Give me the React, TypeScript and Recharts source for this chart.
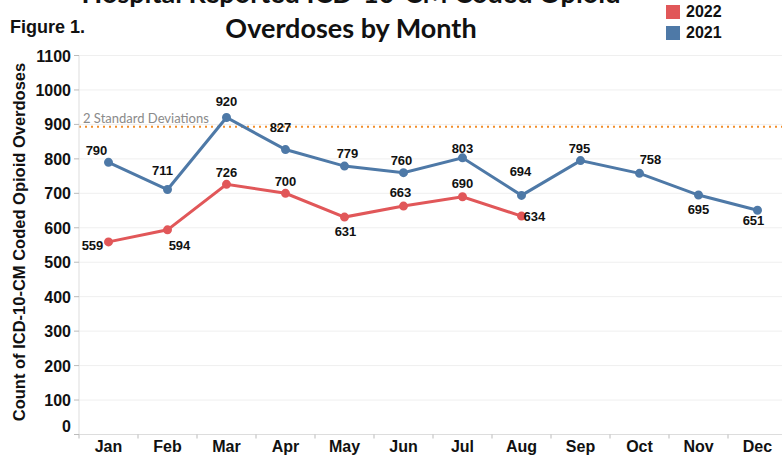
import { LineChart, Line, XAxis, YAxis, CartesianGrid, ReferenceLine } from 'recharts';

const months = ['Jan', 'Feb', 'Mar', 'Apr', 'May', 'Jun', 'Jul', 'Aug', 'Sep', 'Oct', 'Nov', 'Dec'];
const counts2021 = [790, 711, 920, 827, 779, 760, 803, 694, 795, 758, 695, 651];
const counts2022 = [559, 594, 726, 700, 631, 663, 690, 634];
const yTicks = [0, 100, 200, 300, 400, 500, 600, 700, 800, 900, 1000, 1100];
const twoStdDev = 893;

// label offsets (dx, dy from the point), picked to match the original placement
const offsets2021 = [
    [-12, -12], [-5, -20], [0, -17], [-5, -23], [3, -13], [-2, -13],
    [0, -10], [-1, -24], [-1, -13], [11, -14], [0, 14], [-4, 10],
];
const offsets2022 = [
    [-16, 3], [12, 15], [0, -12], [0, -12], [1, 14], [-3, -14], [0, -14], [null, 0],
];

const data = months.map((m, i) => ({
    month: m,
    y2021: counts2021[i],
    y2022: counts2022[i],
}));

const RED = '#e15759';
const BLUE = '#4e79a7';
const FONT = '"Liberation Sans", Arial, sans-serif';

const makeLabel = (offsets: (number | null)[][]) => (props: any) => {
    const { x, y, value, index } = props;
    if (value == null) return null;
    const [dx, dy] = offsets[index] || [0, -12];
    if (dx === null) {
        return (
            <text x={x + 2} y={y + dy} dy={5} textAnchor="start" fontFamily={FONT} fontWeight="bold" fontSize={13} fill="#111">
                {value}
            </text>
        );
    }
    return (
        <text x={x + dx} y={y + dy} dy={5} textAnchor="middle" fontFamily={FONT} fontWeight="bold" fontSize={13} fill="#111">
            {value}
        </text>
    );
};

const MonthTick = (props: any) => {
    const { x, y, payload } = props;
    return (
        <g>
            <line x1={x - 29.5} x2={x - 29.5} y1={y} y2={y + 4} stroke="#bbb" />
            <text x={x} y={y + 17} textAnchor="middle" fontFamily={FONT} fontWeight="bold" fontSize={16} fill="#111">
                {payload.value}
            </text>
        </g>
    );
};

const CountTick = (props: any) => {
    const { x, y, payload } = props;
    const shift = payload.value === 0 ? -9 : 0;
    return (
        <text x={x} y={y + shift} dy={6} textAnchor="end" fontFamily={FONT} fontWeight="bold" fontSize={16} fill="#111">
            {payload.value}
        </text>
    );
};

const App = () => {
    return (
        <div style={{ position: 'absolute', left: 0, top: 0, width: 782, height: 457, overflow: 'hidden', background: '#fff' }}>
            <div
                style={{
                    position: 'absolute', top: -25, left: 0, width: 702, textAlign: 'center',
                    fontFamily: 'Lato, "Open Sans", sans-serif', fontWeight: 'bold', fontSize: 27, lineHeight: '35px', color: '#111',
                }}
            >
                <div>Hospital Reported ICD-10-CM Coded Opioid</div>
                <div>Overdoses by Month</div>
            </div>
            <div style={{ position: 'absolute', top: 17, left: 10, fontFamily: FONT, fontWeight: 'bold', fontSize: 18, color: '#111' }}>
                Figure 1.
            </div>
            {[['2022', RED, 5], ['2021', BLUE, 26]].map(([name, color, top]) => (
                <div key={name as string} style={{ position: 'absolute', left: 666, top: top as number, display: 'flex', alignItems: 'center', height: 14 }}>
                    <div style={{ width: 14, height: 14, background: color as string }} />
                    <span style={{ marginLeft: 6, fontFamily: FONT, fontWeight: 'bold', fontSize: 16, color: '#111' }}>{name}</span>
                </div>
            ))}
            <LineChart width={787} height={457} data={data} margin={{ top: 55.5, right: 0, bottom: 0, left: 0 }}>
                <CartesianGrid vertical={false} stroke="#efefef" />
                <XAxis
                    dataKey="month"
                    height={22.5}
                    padding={{ left: 29.5, right: 29.5 }}
                    axisLine={{ stroke: '#ddd' }}
                    tickLine={false}
                    tickSize={0}
                    tickMargin={0}
                    tick={<MonthTick />}
                    interval={0}
                />
                <YAxis
                    width={79}
                    domain={[0, 1100]}
                    ticks={yTicks}
                    interval={0}
                    tickSize={5}
                    tickMargin={3}
                    axisLine={{ stroke: '#ddd' }}
                    tickLine={{ stroke: '#bbb' }}
                    tick={<CountTick />}
                    label={() => (
                        <text
                            x={19}
                            y={242}
                            transform="rotate(-90 19 242)"
                            dy={6}
                            textAnchor="middle"
                            fontFamily={FONT}
                            fontWeight="bold"
                            fontSize={16.5}
                            fill="#111"
                        >
                            Count of ICD-10-CM Coded Opioid Overdoses
                        </text>
                    )}
                />
                <ReferenceLine
                    y={twoStdDev}
                    stroke="#f28e2b"
                    strokeWidth={2}
                    strokeDasharray="2 4"
                    label={{
                        value: '2 Standard Deviations',
                        position: 'insideTopLeft',
                        offset: 4,
                        dy: -17,
                        fill: '#8a8a8a',
                        fontSize: 13,
                        fontFamily: 'Lato, "Open Sans", sans-serif',
                    }}
                />
                <Line
                    dataKey="y2021"
                    stroke={BLUE}
                    strokeWidth={3}
                    dot={{ r: 3, fill: BLUE, stroke: BLUE }}
                    label={makeLabel(offsets2021)}
                    isAnimationActive={false}
                />
                <Line
                    dataKey="y2022"
                    stroke={RED}
                    strokeWidth={3}
                    dot={{ r: 3, fill: RED, stroke: RED }}
                    label={makeLabel(offsets2022)}
                    isAnimationActive={false}
                />
            </LineChart>
        </div>
    );
};

export default App;
